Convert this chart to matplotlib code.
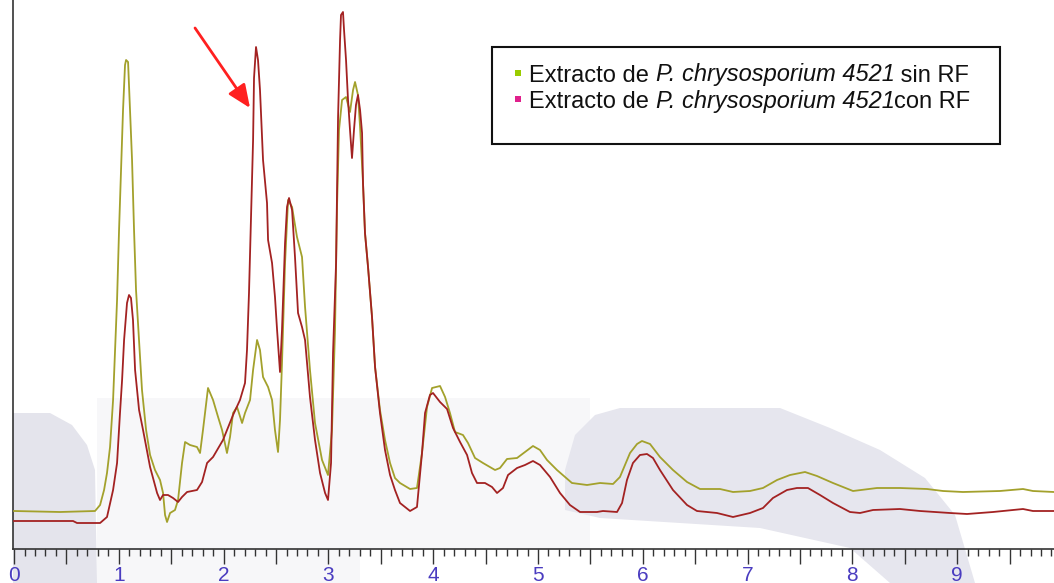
import numpy as np
import matplotlib
matplotlib.use("Agg")
import matplotlib.pyplot as plt
from matplotlib.patches import Polygon, Rectangle
from matplotlib.transforms import Affine2D
from matplotlib.ticker import FixedLocator, FuncFormatter

plt.rcParams["font.family"] = ["Liberation Sans", "DejaVu Sans"]

# retention time [min] and detector signal [a.u.]
t_sin = [0.000, 0.439, 0.773, 0.821, 0.859, 0.887, 0.916, 0.945, 0.964, 0.983,
         1.002, 1.021, 1.040, 1.059, 1.069, 1.088, 1.107, 1.126, 1.145, 1.164,
         1.193, 1.221, 1.260, 1.298, 1.345, 1.393, 1.422, 1.441, 1.460, 1.489,
         1.536, 1.565, 1.603, 1.632, 1.679, 1.746, 1.775, 1.803, 1.851, 1.899,
         1.947, 1.985, 2.032, 2.061, 2.090, 2.128, 2.176, 2.204, 2.252, 2.281,
         2.319, 2.347, 2.376, 2.424, 2.462, 2.490, 2.519, 2.538, 2.557, 2.586,
         2.615, 2.653, 2.700, 2.748, 2.777, 2.824, 2.872, 2.939, 2.996, 3.034,
         3.063, 3.082, 3.101, 3.130, 3.168, 3.206, 3.235, 3.254, 3.282, 3.302,
         3.330, 3.349, 3.378, 3.416, 3.445, 3.492, 3.540, 3.588, 3.635, 3.683,
         3.779, 3.845, 3.893, 3.941, 3.989, 4.065, 4.113, 4.160, 4.208, 4.284,
         4.332, 4.399, 4.475, 4.590, 4.637, 4.704, 4.800, 4.876, 4.952, 5.019,
         5.086, 5.181, 5.324, 5.468, 5.592, 5.716, 5.782, 5.878, 5.945, 5.992,
         6.069, 6.164, 6.288, 6.422, 6.546, 6.737, 6.861, 7.023, 7.147, 7.281,
         7.405, 7.548, 7.662, 7.815, 8.006, 8.235, 8.454, 8.712, 8.865, 9.055,
         9.408, 9.628, 9.723, 9.924]
s_sin = [38, 37, 38, 44, 59, 76, 102, 149, 199, 249,
         319, 379, 439, 484, 489, 487, 439, 389, 319, 259,
         209, 159, 119, 94, 79, 69, 56, 34, 27, 36,
         39, 49, 86, 107, 104, 102, 96, 119, 161, 149,
         132, 119, 96, 112, 136, 142, 126, 136, 149, 179,
         209, 199, 172, 162, 149, 119, 97, 129, 186, 286,
         349, 342, 312, 292, 242, 179, 126, 89, 74, 119,
         219, 342, 419, 449, 452, 437, 459, 467, 454, 422,
         366, 316, 282, 232, 182, 139, 109, 86, 71, 66,
         60, 61, 96, 142, 161, 163, 152, 136, 117, 114,
         106, 91, 86, 79, 81, 90, 91, 97, 103, 99,
         89, 79, 66, 64, 66, 65, 72, 96, 105, 108,
         105, 92, 79, 67, 60, 60, 57, 58, 61, 69,
         74, 77, 73, 66, 58, 61, 61, 60, 58, 57,
         58, 60, 58, 57]

t_con = [0.000, 0.563, 0.601, 0.821, 0.887, 0.945, 0.983, 1.011, 1.031, 1.050,
         1.078, 1.097, 1.116, 1.135, 1.155, 1.193, 1.231, 1.298, 1.365, 1.393,
         1.422, 1.469, 1.517, 1.565, 1.603, 1.651, 1.746, 1.794, 1.842, 1.899,
         1.994, 2.090, 2.156, 2.204, 2.223, 2.242, 2.261, 2.281, 2.290, 2.309,
         2.328, 2.347, 2.376, 2.414, 2.424, 2.462, 2.490, 2.510, 2.538, 2.557,
         2.586, 2.605, 2.624, 2.653, 2.681, 2.710, 2.748, 2.777, 2.796, 2.824,
         2.872, 2.920, 2.968, 2.996, 3.025, 3.044, 3.073, 3.092, 3.111, 3.120,
         3.139, 3.149, 3.168, 3.187, 3.206, 3.225, 3.244, 3.263, 3.282, 3.302,
         3.321, 3.330, 3.349, 3.378, 3.416, 3.445, 3.492, 3.540, 3.588, 3.635,
         3.683, 3.779, 3.845, 3.893, 3.922, 3.969, 3.998, 4.065, 4.132, 4.189,
         4.256, 4.323, 4.370, 4.418, 4.494, 4.561, 4.609, 4.666, 4.714, 4.800,
         4.876, 4.952, 5.019, 5.115, 5.210, 5.305, 5.401, 5.563, 5.620, 5.754,
         5.802, 5.849, 5.906, 5.973, 6.040, 6.097, 6.164, 6.288, 6.422, 6.517,
         6.708, 6.861, 7.023, 7.147, 7.242, 7.376, 7.471, 7.576, 7.691, 7.815,
         7.977, 8.073, 8.197, 8.454, 8.645, 8.931, 9.094, 9.342, 9.628, 9.723,
         9.924]
s_con = [28, 28, 26, 26, 32, 59, 86, 136, 169, 209,
         246, 254, 251, 229, 179, 139, 119, 82, 56, 49,
         54, 54, 51, 47, 52, 57, 59, 67, 86, 92,
         109, 134, 149, 166, 199, 256, 329, 409, 471, 502,
         489, 459, 389, 346, 309, 286, 252, 219, 177, 219,
         306, 342, 351, 339, 292, 236, 222, 209, 186, 152,
         109, 76, 56, 49, 86, 196, 286, 432, 509, 534,
         537, 519, 489, 449, 419, 391, 419, 444, 454, 439,
         416, 366, 316, 282, 232, 182, 136, 99, 74, 59,
         46, 38, 42, 96, 136, 154, 156, 147, 140, 121,
         107, 94, 76, 66, 66, 62, 56, 61, 74, 81,
         84, 88, 84, 72, 56, 44, 37, 37, 38, 37,
         46, 69, 86, 94, 95, 91, 79, 59, 44, 38,
         36, 32, 36, 41, 51, 59, 61, 61, 54, 46,
         37, 36, 39, 40, 38, 36, 35, 37, 40, 38,
         38]

# legend entries: (upright, italic, upright) pieces
labels = [("Extracto de ", "P. chrysosporium 4521", " sin RF"),
          ("Extracto de ", "P. chrysosporium 4521", "con RF")]
marker_colors = ["#99cc00", "#e0208c"]

W, H = 1054, 583
fig = plt.figure(figsize=(W / 100, H / 100), dpi=100)

# faint watermark in the background (pixel coords, y from top)
to_disp = Affine2D().scale(1, -1).translate(0, H)
watermark = [
    ("#f7f7f9", [(97, 398), (590, 398), (590, 549), (360, 549), (360, 583), (97, 583)]),
    ("#e4e4ec", [(13, 413), (50, 413), (72, 425), (87, 445), (95, 470),
                 (97, 583), (13, 583)]),
    ("#e6e6ee", [(565, 510), (565, 470), (575, 435), (595, 415), (620, 408),
                 (780, 408), (830, 428), (880, 450), (925, 478), (955, 515),
                 (975, 583), (890, 583), (850, 548), (760, 528), (600, 518)]),
]
for color, pts in watermark:
    fig.patches.append(Polygon(pts, closed=True, facecolor=color, edgecolor="none",
                               transform=to_disp, zorder=-5))

ax = fig.add_axes([13 / W, 34 / H, (W - 13) / W, 549 / H])
ax.patch.set_visible(False)
ax.set_zorder(1)

ax.plot(t_sin, s_sin, color="#a3a12c", lw=1.3, zorder=3)
ax.plot(t_con, s_con, color="#a32222", lw=1.3, zorder=4)

ax.set_xlim(-0.01, 9.924)
ax.set_ylim(0, 549)

for side in ["top", "right"]:
    ax.spines[side].set_visible(False)
for side in ["left", "bottom"]:
    ax.spines[side].set_color("#333333")
    ax.spines[side].set_linewidth(1.2)

ax.yaxis.set_major_locator(FixedLocator([]))
ax.yaxis.set_minor_locator(FixedLocator([]))
ax.xaxis.set_major_locator(FixedLocator(np.arange(0, 10, 0.5)))
ax.xaxis.set_minor_locator(FixedLocator(np.arange(0, 10, 0.1)))
ax.xaxis.set_major_formatter(FuncFormatter(lambda v, _: f"{v:.0f}" if abs(v - round(v)) < 1e-6 else ""))
ax.tick_params(axis="x", which="major", length=10.5, width=1, color="#333333",
               labelsize=15, labelcolor="#4a3cc0", pad=1.5)
ax.tick_params(axis="x", which="minor", length=5, width=1, color="#333333")

ax.annotate("", xy=(2.252, 441), xytext=(1.727, 521),
            arrowprops=dict(arrowstyle="-|>,head_length=0.7,head_width=0.3",
                            color="#ff2020", lw=2, mutation_scale=20,
                            shrinkA=0, shrinkB=0), zorder=5)

# legend box
legend_ax = fig.add_axes([0, 0, 1, 1])
legend_ax.set_axis_off()
legend_ax.set_zorder(2)
legend_ax.set_xlim(0, W)
legend_ax.set_ylim(H, 0)
legend_ax.add_patch(Rectangle((492, 47), 508, 97, facecolor="white",
                              edgecolor="#111111", lw=1.5))
renderer = fig.canvas.get_renderer()
for i, (parts, mc) in enumerate(zip(labels, marker_colors)):
    yb = 81.5 + i * 26.5
    legend_ax.add_patch(Rectangle((515, yb - 12), 6, 6, facecolor=mc, edgecolor="none"))
    x = 529
    for j, piece in enumerate(parts):
        txt = legend_ax.text(x, yb, piece, fontsize=17, color="#111111",
                             style="italic" if j == 1 else "normal",
                             va="baseline", ha="left")
        bb = txt.get_window_extent(renderer)
        x += bb.width

fig.savefig("out.png", dpi=100)
